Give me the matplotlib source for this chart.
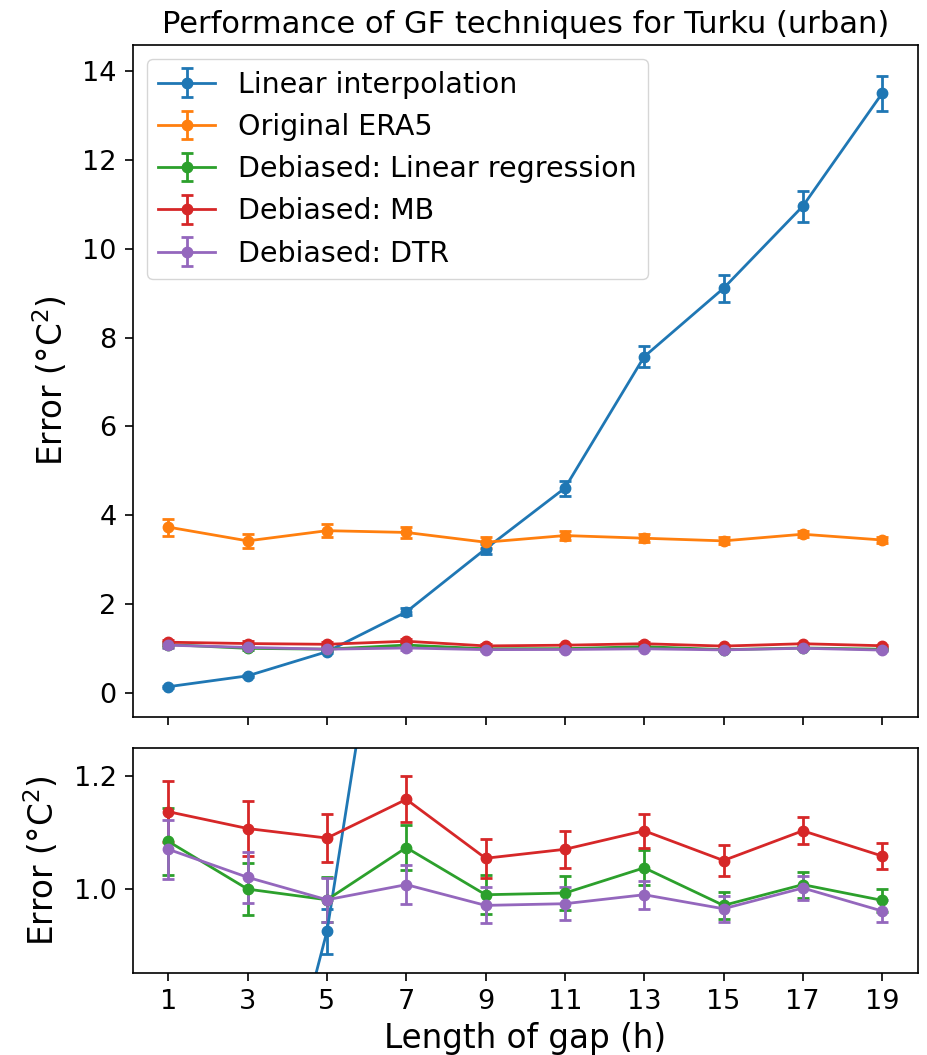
import numpy as np
import matplotlib
matplotlib.use("Agg")
import matplotlib.pyplot as plt

# gap lengths (h)
gap = [1, 3, 5, 7, 9, 11, 13, 15, 17, 19]

# mean error and its uncertainty for each gap-filling technique
linear = [0.135, 0.38, 0.924, 1.82, 3.24, 4.61, 7.57, 9.11, 10.96, 13.50]
linear_err = [0.02, 0.02, 0.04, 0.08, 0.12, 0.17, 0.24, 0.30, 0.35, 0.39]
era5 = [3.73, 3.42, 3.65, 3.61, 3.39, 3.54, 3.48, 3.42, 3.57, 3.44]
era5_err = [0.19, 0.15, 0.15, 0.13, 0.12, 0.11, 0.09, 0.08, 0.07, 0.06]
linreg = [1.084, 0.999, 0.980, 1.073, 0.989, 0.992, 1.037, 0.970, 1.007, 0.979]
linreg_err = [0.060, 0.046, 0.040, 0.040, 0.035, 0.030, 0.031, 0.024, 0.023, 0.021]
mb = [1.137, 1.107, 1.090, 1.159, 1.054, 1.070, 1.103, 1.050, 1.103, 1.058]
mb_err = [0.054, 0.049, 0.043, 0.041, 0.035, 0.033, 0.030, 0.027, 0.024, 0.023]
dtr = [1.070, 1.020, 0.980, 1.007, 0.970, 0.973, 0.989, 0.964, 1.001, 0.960]
dtr_err = [0.053, 0.046, 0.039, 0.035, 0.032, 0.029, 0.025, 0.023, 0.022, 0.019]

labels = ["Linear interpolation", "Original ERA5", "Debiased: Linear regression",
          "Debiased: MB", "Debiased: DTR"]
series = [(linear, linear_err), (era5, era5_err), (linreg, linreg_err),
          (mb, mb_err), (dtr, dtr_err)]

fig = plt.figure(figsize=(9.28, 10.55), dpi=100)
ax_top = fig.add_axes([0.143, 0.3207, 0.846, 0.6366])
ax_bot = fig.add_axes([0.143, 0.078, 0.846, 0.2127], sharex=ax_top)

style = dict(fmt="-o", lw=2, ms=7.5, capsize=4.5, elinewidth=2, capthick=2)
for (vals, err), lab in zip(series, labels):
    ax_top.errorbar(gap, vals, yerr=err, label=lab, **style)
    ax_bot.errorbar(gap, vals, yerr=err, **style)

ax_top.set_xlim(0.1, 19.9)
ax_top.set_ylim(-0.54, 14.59)
ax_top.set_yticks(np.arange(0, 15, 2))
ax_top.tick_params(labelbottom=False, labelsize=19.5, length=5.5, width=1.2, pad=6)
ax_top.set_ylabel("Error (°C$^2$)", fontsize=23.5, labelpad=9)
ax_top.set_title("Performance of GF techniques for Turku (urban)", fontsize=22, pad=9)
ax_top.legend(loc="upper left", fontsize=20.5, handlelength=2.0)

ax_bot.set_ylim(0.85, 1.25)
ax_bot.set_yticks([1.0, 1.2])
ax_bot.set_xticks(gap)
ax_bot.tick_params(labelsize=19.5, length=5.5, width=1.2, pad=6)
ax_bot.set_ylabel("Error (°C$^2$)", fontsize=23.5, labelpad=9)
ax_bot.set_xlabel("Length of gap (h)", fontsize=23.5, labelpad=5)

for ax in (ax_top, ax_bot):
    for sp in ax.spines.values():
        sp.set_linewidth(1.2)

fig.savefig("out.png", dpi=100)
